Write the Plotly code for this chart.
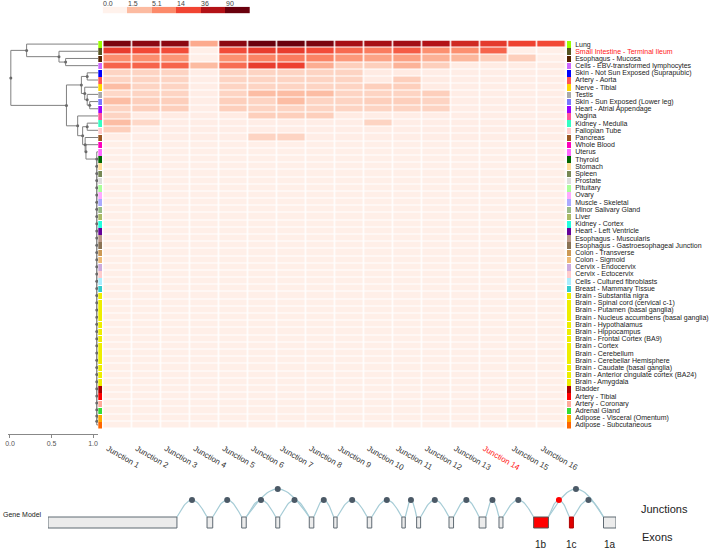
import math
import plotly.graph_objects as go

W, H = 709, 551

# ---------------- data ----------------
tissues = ["Lung", "Small Intestine - Terminal Ileum", "Esophagus - Mucosa",
           "Cells - EBV-transformed lymphocytes", "Skin - Not Sun Exposed (Suprapubic)",
           "Artery - Aorta", "Nerve - Tibial", "Testis", "Skin - Sun Exposed (Lower leg)",
           "Heart - Atrial Appendage", "Vagina", "Kidney - Medulla", "Fallopian Tube",
           "Pancreas", "Whole Blood", "Uterus", "Thyroid", "Stomach", "Spleen", "Prostate",
           "Pituitary", "Ovary", "Muscle - Skeletal", "Minor Salivary Gland", "Liver",
           "Kidney - Cortex", "Heart - Left Ventricle", "Esophagus - Muscularis",
           "Esophagus - Gastroesophageal Junction", "Colon - Transverse", "Colon - Sigmoid",
           "Cervix - Endocervix", "Cervix - Ectocervix", "Cells - Cultured fibroblasts",
           "Breast - Mammary Tissue", "Brain - Substantia nigra",
           "Brain - Spinal cord (cervical c-1)", "Brain - Putamen (basal ganglia)",
           "Brain - Nucleus accumbens (basal ganglia)", "Brain - Hypothalamus",
           "Brain - Hippocampus", "Brain - Frontal Cortex (BA9)", "Brain - Cortex",
           "Brain - Cerebellum", "Brain - Cerebellar Hemisphere",
           "Brain - Caudate (basal ganglia)", "Brain - Anterior cingulate cortex (BA24)",
           "Brain - Amygdala", "Bladder", "Artery - Tibial", "Artery - Coronary",
           "Adrenal Gland", "Adipose - Visceral (Omentum)", "Adipose - Subcutaneous"]

tissue_colors = ["#99FF00", "#555522", "#552200", "#CC66FF", "#0000FF", "#FF5555", "#FFD700",
                 "#AAAAAA", "#7777FF", "#9900FF", "#FF5599", "#33FFC2", "#FFCCCC", "#995522",
                 "#FF00BB", "#FF66FF", "#006600", "#FFDD99", "#778855", "#DDDDDD", "#AAFF99",
                 "#FFAAFF", "#AAAAFF", "#99BB88", "#AABB66", "#22FFDD", "#660099", "#BB9988",
                 "#8B7355", "#CC9955", "#EEBB77", "#CCAADD", "#FFCCCC", "#AAEEFF", "#33CCCC",
                 "#EEEE00", "#EEEE00", "#EEEE00", "#EEEE00", "#EEEE00", "#EEEE00", "#EEEE00",
                 "#EEEE00", "#EEEE00", "#EEEE00", "#EEEE00", "#EEEE00", "#EEEE00",
                 "#AA0000", "#FF0000", "#FFAA99", "#33DD33", "#FFAA00", "#FF6600"]

highlight_tissue = "Small Intestine - Terminal Ileum"

junctions = ["Junction 1", "Junction 2", "Junction 3", "Junction 4", "Junction 5",
             "Junction 6", "Junction 7", "Junction 8", "Junction 9", "Junction 10",
             "Junction 11", "Junction 12", "Junction 13", "Junction 14", "Junction 15",
             "Junction 16"]
highlight_junction = "Junction 14"

# expression per tissue (rows, same order as tissues) x junction (columns)
expr = [
    [73, 59, 59, 2.4, 59, 90, 90, 73, 42, 42, 44, 36, 23.5, 17, 14.6, 13.2],
    [16, 13, 12.5, 0.05, 12.5, 16, 16, 12.5, 8.2, 6.3, 10, 4.5, 4.5, 8.9, 0.05, 0.05],
    [4.7, 4.7, 4.0, 0.05, 4.5, 5.7, 6.4, 5.7, 3.7, 2.9, 3.1, 2.0, 1.7, 0.8, 0.8, 0.05],
    [9, 9, 9, 1.5, 8, 16, 15, 2.2, 0.8, 0.8, 1.9, 0.8, 0.1, 0.1, 0.1, 0.1],
    [0.65, 0.65, 0.65, 0.08, 0.65, 0.65, 0.65, 0.65, 0.65, 0.12, 0.12, 0.08, 0.08, 0.08, 0.08, 0.08],
    [0.65, 0.65, 0.65, 0.08, 0.65, 0.65, 0.65, 0.65, 0.65, 0.12, 0.8, 0.12, 0.08, 0.08, 0.08, 0.08],
    [1.4, 0.65, 0.65, 0.08, 0.65, 0.65, 0.65, 0.65, 0.65, 0.8, 0.8, 0.12, 0.08, 0.08, 0.08, 0.08],
    [0.55, 0.65, 0.65, 0.08, 0.65, 1.4, 1.4, 1.4, 0.65, 0.65, 0.65, 0.8, 0.08, 0.08, 0.08, 0.08],
    [1.4, 0.8, 0.8, 0.08, 0.8, 0.65, 1.4, 0.65, 0.65, 0.8, 0.8, 0.65, 0.08, 0.08, 0.08, 0.08],
    [0.65, 0.8, 0.8, 0.08, 0.8, 0.65, 0.65, 0.65, 0.65, 0.65, 0.65, 0.65, 0.08, 0.08, 0.08, 0.08],
    [0.65, 0.12, 0.12, 0.08, 0.12, 0.8, 0.8, 0.8, 0.12, 0.08, 0.08, 0.08, 0.08, 0.08, 0.08, 0.08],
    [1.4, 0.55, 0.08, 0.08, 0.08, 0.08, 0.08, 0.08, 0.08, 0.65, 0.08, 0.08, 0.08, 0.08, 0.08, 0.08],
    [0.8, 0.08, 0.08, 0.08, 0.08, 0.08, 0.08, 0.08, 0.08, 0.08, 0.08, 0.08, 0.08, 0.08, 0.08, 0.08],
    [0.08, 0.08, 0.08, 0.08, 0.08, 0.65, 0.65, 0.08, 0.08, 0.08, 0.08, 0.08, 0.08, 0.08, 0.08, 0.08],
    [0.06, 0.05, 0.05, 0.05, 0.05, 0.05, 0.05, 0.05, 0.05, 0.05, 0.05, 0.05, 0.05, 0.05, 0.05, 0.05],
    [0.05, 0.05, 0.05, 0.05, 0.05, 0.05, 0.05, 0.05, 0.05, 0.05, 0.05, 0.05, 0.05, 0.05, 0.05, 0.05],
    [0.05, 0.05, 0.05, 0.05, 0.05, 0.05, 0.05, 0.05, 0.05, 0.05, 0.05, 0.05, 0.05, 0.05, 0.05, 0.05],
    [0.05, 0.05, 0.05, 0.05, 0.05, 0.05, 0.05, 0.05, 0.05, 0.05, 0.05, 0.05, 0.05, 0.05, 0.05, 0.05],
    [0.05, 0.05, 0.05, 0.05, 0.05, 0.05, 0.05, 0.05, 0.05, 0.05, 0.05, 0.05, 0.05, 0.05, 0.05, 0.05],
    [0.05, 0.05, 0.05, 0.05, 0.05, 0.05, 0.05, 0.05, 0.05, 0.05, 0.05, 0.05, 0.05, 0.05, 0.05, 0.05],
    [0.05, 0.05, 0.05, 0.05, 0.05, 0.05, 0.05, 0.05, 0.05, 0.05, 0.05, 0.05, 0.05, 0.05, 0.05, 0.05],
    [0.05, 0.05, 0.05, 0.05, 0.05, 0.05, 0.05, 0.05, 0.05, 0.05, 0.05, 0.05, 0.05, 0.05, 0.05, 0.05],
    [0.05, 0.05, 0.05, 0.05, 0.05, 0.05, 0.05, 0.05, 0.05, 0.05, 0.05, 0.05, 0.05, 0.05, 0.05, 0.05],
    [0.05, 0.05, 0.05, 0.05, 0.05, 0.05, 0.05, 0.05, 0.05, 0.05, 0.05, 0.05, 0.05, 0.05, 0.05, 0.05],
    [0.05, 0.05, 0.05, 0.05, 0.05, 0.05, 0.05, 0.05, 0.05, 0.05, 0.05, 0.05, 0.05, 0.05, 0.05, 0.05],
    [0.05, 0.05, 0.05, 0.05, 0.05, 0.05, 0.05, 0.05, 0.05, 0.05, 0.05, 0.05, 0.05, 0.05, 0.05, 0.05],
    [0.05, 0.05, 0.05, 0.05, 0.05, 0.05, 0.05, 0.05, 0.05, 0.05, 0.05, 0.05, 0.05, 0.05, 0.05, 0.05],
    [0.05, 0.05, 0.05, 0.05, 0.05, 0.05, 0.05, 0.05, 0.05, 0.05, 0.05, 0.05, 0.05, 0.05, 0.05, 0.05],
    [0.05, 0.05, 0.05, 0.05, 0.05, 0.05, 0.05, 0.05, 0.05, 0.05, 0.05, 0.05, 0.05, 0.05, 0.05, 0.05],
    [0.05, 0.05, 0.05, 0.05, 0.05, 0.05, 0.05, 0.05, 0.05, 0.05, 0.05, 0.05, 0.05, 0.05, 0.05, 0.05],
    [0.05, 0.05, 0.05, 0.05, 0.05, 0.05, 0.05, 0.05, 0.05, 0.05, 0.05, 0.05, 0.05, 0.05, 0.05, 0.05],
    [0.05, 0.05, 0.05, 0.05, 0.05, 0.05, 0.05, 0.05, 0.05, 0.05, 0.05, 0.05, 0.05, 0.05, 0.05, 0.05],
    [0.05, 0.05, 0.05, 0.05, 0.05, 0.05, 0.05, 0.05, 0.05, 0.05, 0.05, 0.05, 0.05, 0.05, 0.05, 0.05],
    [0.05, 0.05, 0.05, 0.05, 0.05, 0.05, 0.05, 0.05, 0.05, 0.05, 0.05, 0.05, 0.05, 0.05, 0.05, 0.05],
    [0.05, 0.05, 0.05, 0.05, 0.05, 0.05, 0.05, 0.05, 0.05, 0.05, 0.05, 0.05, 0.05, 0.05, 0.05, 0.05],
    [0.05, 0.05, 0.05, 0.05, 0.05, 0.05, 0.05, 0.05, 0.05, 0.05, 0.05, 0.05, 0.05, 0.05, 0.05, 0.05],
    [0.05, 0.05, 0.05, 0.05, 0.05, 0.05, 0.05, 0.05, 0.05, 0.05, 0.05, 0.05, 0.05, 0.05, 0.05, 0.05],
    [0.05, 0.05, 0.05, 0.05, 0.05, 0.05, 0.05, 0.05, 0.05, 0.05, 0.05, 0.05, 0.05, 0.05, 0.05, 0.05],
    [0.05, 0.05, 0.05, 0.05, 0.05, 0.05, 0.05, 0.05, 0.05, 0.05, 0.05, 0.05, 0.05, 0.05, 0.05, 0.05],
    [0.05, 0.05, 0.05, 0.05, 0.05, 0.05, 0.05, 0.05, 0.05, 0.05, 0.05, 0.05, 0.05, 0.05, 0.05, 0.05],
    [0.05, 0.05, 0.05, 0.05, 0.05, 0.05, 0.05, 0.05, 0.05, 0.05, 0.05, 0.05, 0.05, 0.05, 0.05, 0.05],
    [0.05, 0.05, 0.05, 0.05, 0.05, 0.05, 0.05, 0.05, 0.05, 0.05, 0.05, 0.05, 0.05, 0.05, 0.05, 0.05],
    [0.05, 0.05, 0.05, 0.05, 0.05, 0.05, 0.05, 0.05, 0.05, 0.05, 0.05, 0.05, 0.05, 0.05, 0.05, 0.05],
    [0.05, 0.05, 0.05, 0.05, 0.05, 0.05, 0.05, 0.05, 0.05, 0.05, 0.05, 0.05, 0.05, 0.05, 0.05, 0.05],
    [0.05, 0.05, 0.05, 0.05, 0.05, 0.05, 0.05, 0.05, 0.05, 0.05, 0.05, 0.05, 0.05, 0.05, 0.05, 0.05],
    [0.05, 0.05, 0.05, 0.05, 0.05, 0.05, 0.05, 0.05, 0.05, 0.05, 0.05, 0.05, 0.05, 0.05, 0.05, 0.05],
    [0.05, 0.05, 0.05, 0.05, 0.05, 0.05, 0.05, 0.05, 0.05, 0.05, 0.05, 0.05, 0.05, 0.05, 0.05, 0.05],
    [0.05, 0.05, 0.05, 0.05, 0.05, 0.05, 0.05, 0.05, 0.05, 0.05, 0.05, 0.05, 0.05, 0.05, 0.05, 0.05],
    [0.05, 0.05, 0.05, 0.05, 0.05, 0.05, 0.05, 0.05, 0.05, 0.05, 0.05, 0.05, 0.05, 0.05, 0.05, 0.05],
    [0.05, 0.05, 0.05, 0.05, 0.05, 0.05, 0.05, 0.05, 0.05, 0.05, 0.05, 0.05, 0.05, 0.05, 0.05, 0.05],
    [0.05, 0.05, 0.05, 0.05, 0.05, 0.05, 0.05, 0.05, 0.05, 0.05, 0.05, 0.05, 0.05, 0.05, 0.05, 0.05],
    [0.05, 0.05, 0.05, 0.05, 0.05, 0.05, 0.05, 0.05, 0.05, 0.05, 0.05, 0.05, 0.05, 0.05, 0.05, 0.05],
    [0.05, 0.05, 0.05, 0.05, 0.05, 0.05, 0.05, 0.05, 0.05, 0.05, 0.05, 0.05, 0.05, 0.05, 0.05, 0.05],
    [0.05, 0.05, 0.05, 0.05, 0.05, 0.05, 0.05, 0.05, 0.05, 0.05, 0.05, 0.05, 0.05, 0.05, 0.05, 0.05],
]

scale_ticks = [0.0, 1.5, 5.1, 14, 36, 90]
scale_labels = ["0.0", "1.5", "5.1", "14", "36", "90"]
scale_colors = ["#fff2ec", "#fcbba1", "#fc8a6a", "#f14432", "#b31217", "#6a000d"]

# dendrogram merges: (node, left child, right child, similarity)
merges = [
    ("C", 2, 3, 0.67),
    ("B", 1, "C", 0.59),
    ("A", 0, "B", 0.20),
    ("I", 8, 9, 0.96),
    ("H", 7, "I", 0.93),
    ("G", 6, "H", 0.90),
    ("E1", 4, 5, 0.93),
    ("E", "E1", "G", 0.86),
    ("K", 11, 12, 0.93),
]
zero_cluster_similarity = 1.045
for k in range(len(tissues) - 2, 14, -1):
    right = len(tissues) - 1 if k == len(tissues) - 2 else "Z%d" % (k + 1)
    merges.append(("Z%d" % k, k, right, zero_cluster_similarity))
merges += [
    ("N", 14, "Z15", 0.915),
    ("L", 13, "N", 0.905),
    ("F2", "K", "L", 0.875),
    ("F", 10, "F2", 0.815),
    ("D", "E", "F", 0.68),
    ("R", "A", "D", 0.01),
]
leaf_similarity = 1.06

# gene model (relative gene coordinate, 0-100)
exon_start = [0.0, 28.0, 34.1, 40.1, 46.0, 50.3, 56.2, 62.3, 64.9, 70.6, 75.9, 79.4, 85.5, 91.8, 97.8]
exon_end = [22.7, 29.0, 34.9, 40.8, 46.8, 50.9, 57.0, 62.9, 65.6, 71.4, 77.1, 80.1, 88.1, 92.5, 100.0]
exon_fill = ["#ececec"] * 12 + ["#ff0000", "#e00000", "#ececec"]
exon_line = ["#5f6a73"] * 12 + ["#555555", "#b00000", "#5f6a73"]
exon_names = {12: "1b", 13: "1c", 14: "1a"}
junc_donor = [0, 1, 2, 2, 3, 4, 5, 6, 7, 8, 9, 10, 11, 12, 12, 13]
junc_acceptor = [1, 2, 3, 4, 4, 5, 6, 7, 8, 9, 10, 11, 12, 13, 14, 14]
junc_level = [1, 1, 1, 2, 1, 1, 1, 1, 1, 1, 1, 1, 1, 1, 2, 1]

# ---------------- helpers ----------------
def pxx(p):
    return p / W

def pxy(p):
    return 1 - p / H

zmax = math.log1p(scale_ticks[-1])
colorscale = [[math.log1p(t) / zmax, c] for t, c in zip(scale_ticks, scale_colors)]
n = len(tissues)
FONT = "Arial, Liberation Sans, sans-serif"

fig = go.Figure()

# heatmap
z = [[math.log1p(v) for v in row] for row in expr]
fig.add_trace(go.Heatmap(z=z, x=list(range(len(junctions))), y=list(range(n)),
                         colorscale=colorscale, zmin=0, zmax=zmax, showscale=False,
                         xgap=1.5, ygap=1, xaxis="x", yaxis="y", hoverinfo="skip"))

# tissue colour strips
for ax in ["x2", "x3"]:
    fig.add_trace(go.Bar(x=[1] * n, y=list(range(n)), orientation="h", width=0.92,
                         marker=dict(color=tissue_colors, line=dict(width=0)),
                         xaxis=ax, yaxis="y", hoverinfo="skip"))

# dendrogram
pos = {i: (leaf_similarity, i) for i in range(n)}
dx, dy, nx_, ny_ = [], [], [], []
for name, a, b, s in merges:
    xa, ya = pos[a]
    xb, yb = pos[b]
    y = (ya + yb) / 2
    dx += [xa, s, s, xb, None]
    dy += [ya, ya, yb, yb, None]
    pos[name] = (s, y)
    nx_.append(s)
    ny_.append(y)
fig.add_trace(go.Scatter(x=dx, y=dy, mode="lines", line=dict(color="#808080", width=1),
                         xaxis="x4", yaxis="y", hoverinfo="skip"))
fig.add_trace(go.Scatter(x=nx_, y=ny_, mode="markers", marker=dict(color="#6a6a6a", size=3),
                         xaxis="x4", yaxis="y", hoverinfo="skip"))

# colour scale legend
fig.add_trace(go.Heatmap(z=[[math.log1p(t) for t in scale_ticks]], x=list(range(len(scale_ticks))),
                         y=[0], colorscale=colorscale, zmin=0, zmax=zmax, showscale=False,
                         xaxis="x6", yaxis="y6", hoverinfo="skip"))

# gene model
exon_bottom, exon_top = 23, 34
level_y = {1: 51, 2: 62}
ax_, ay_ = [], []
dot_x, dot_y, dot_c = [], [], []
for j, (d, a, lv) in enumerate(zip(junc_donor, junc_acceptor, junc_level)):
    x0, x1 = exon_end[d], exon_start[a]
    peak = level_y[lv]
    for i in range(31):
        t = i / 30
        ax_.append(x0 + (x1 - x0) * t)
        ay_.append(exon_top + (peak - exon_top) * math.sin(math.pi * t))
    ax_.append(None)
    ay_.append(None)
    dot_x.append((x0 + x1) / 2)
    dot_y.append(peak)
    dot_c.append("#ff0000" if junctions[j] == highlight_junction else "#4b5966")
fig.add_trace(go.Scatter(x=ax_, y=ay_, mode="lines", line=dict(color="#a6ccd6", width=1.2),
                         xaxis="x5", yaxis="y5", hoverinfo="skip"))
fig.add_trace(go.Scatter(x=dot_x, y=dot_y, mode="markers", marker=dict(color=dot_c, size=6),
                         xaxis="x5", yaxis="y5", hoverinfo="skip"))

shapes = []
for s, e, fc, lc in zip(exon_start, exon_end, exon_fill, exon_line):
    shapes.append(dict(type="rect", xref="x5", yref="y5", x0=s, x1=e, y0=exon_bottom, y1=exon_top,
                       fillcolor=fc, line=dict(color=lc, width=1)))

annotations = []
for i, lab in exon_names.items():
    annotations.append(dict(x=(exon_start[i] + exon_end[i]) / 2, y=pxy(544), xref="x5", yref="paper",
                            text=lab, showarrow=False, yanchor="middle",
                            font=dict(size=10, color="#222", family=FONT)))
annotations.append(dict(x=pxx(1), y=pxy(514), xref="paper", yref="paper", text="Gene Model",
                        xanchor="left", yanchor="middle", showarrow=False,
                        font=dict(size=7, color="#222", family=FONT)))
annotations.append(dict(x=pxx(639), y=pxy(509), xref="paper", yref="paper", text="Junctions",
                        xanchor="left", yanchor="middle", showarrow=False,
                        font=dict(size=11, color="#222", family=FONT)))
annotations.append(dict(x=pxx(640), y=pxy(537), xref="paper", yref="paper", text="Exons",
                        xanchor="left", yanchor="middle", showarrow=False,
                        font=dict(size=11, color="#222", family=FONT)))
cb_left, cb_right = 102.7, 250.0
cb_block = (cb_right - cb_left) / len(scale_ticks)
for i, lab in enumerate(scale_labels):
    annotations.append(dict(x=pxx(cb_left + i * cb_block - 1.5), y=pxy(3.5), xref="paper", yref="paper",
                            text=lab, xanchor="left", yanchor="middle", showarrow=False,
                            font=dict(size=7, color="#444", family=FONT)))

tick_tissues = ["<span style='color:#ff2020'>%s</span>" % t if t == highlight_tissue else t
                for t in tissues]
tick_junctions = ["<span style='color:#ff2020'>%s</span>" % t if t == highlight_junction else t
                  for t in junctions]

hidden = dict(visible=False, showgrid=False, zeroline=False, fixedrange=True)

fig.update_layout(
    width=W, height=H, margin=dict(l=0, r=0, t=0, b=0, autoexpand=False),
    paper_bgcolor="white", plot_bgcolor="white", showlegend=False,
    font=dict(family=FONT, color="#222"),
    shapes=shapes, annotations=annotations, bargap=0,
    xaxis=dict(domain=[pxx(103.3), pxx(566.7)], range=[-0.5, len(junctions) - 0.5],
               tickvals=list(range(len(junctions))), ticktext=tick_junctions, tickangle=30,
               tickfont=dict(size=8, color="#333"), ticks="", showgrid=False, zeroline=False,
               showline=False, anchor="y", ticklabelstandoff=13, ticklabelshift=-10,
               automargin=False),
    yaxis=dict(domain=[pxy(428.5), pxy(40.5)], range=[n - 0.5, -0.5],
               tickvals=list(range(n)), ticktext=tick_tissues, side="right", anchor="x3",
               tickfont=dict(size=7, color="#222"), ticks="", showgrid=False, zeroline=False,
               showline=False, automargin=False, ticklabelstandoff=3),
    xaxis2=dict(domain=[pxx(98.3), pxx(102.5)], range=[0, 1], anchor="y", **hidden),
    xaxis3=dict(domain=[pxx(567), pxx(571.2)], range=[0, 1], anchor="y", **hidden),
    xaxis4=dict(domain=[pxx(8), pxx(98)], range=[-0.024, 1.06], anchor="free",
                position=pxy(434), tickvals=[0, 0.5, 1.0], ticktext=["0.0", "0.5", "1.0"],
                ticks="outside", ticklen=3, tickcolor="#888", showline=True, linecolor="#888",
                linewidth=1, showgrid=False, zeroline=False, automargin=False,
                tickfont=dict(size=7, color="#555")),
    xaxis5=dict(domain=[pxx(48), pxx(616)], range=[0, 100], anchor="y5", **hidden),
    yaxis5=dict(domain=[0, pxy(470)], range=[0, 81], anchor="x5", **hidden),
    xaxis6=dict(domain=[pxx(cb_left), pxx(cb_right)], range=[-0.5, len(scale_ticks) - 0.5],
                anchor="y6", **hidden),
    yaxis6=dict(domain=[pxy(13.3), pxy(6.7)], range=[-0.5, 0.5], anchor="x6", **hidden),
)

fig.write_html("out.html", config={"displayModeBar": False},
               post_script="document.body.style.margin='0';")
